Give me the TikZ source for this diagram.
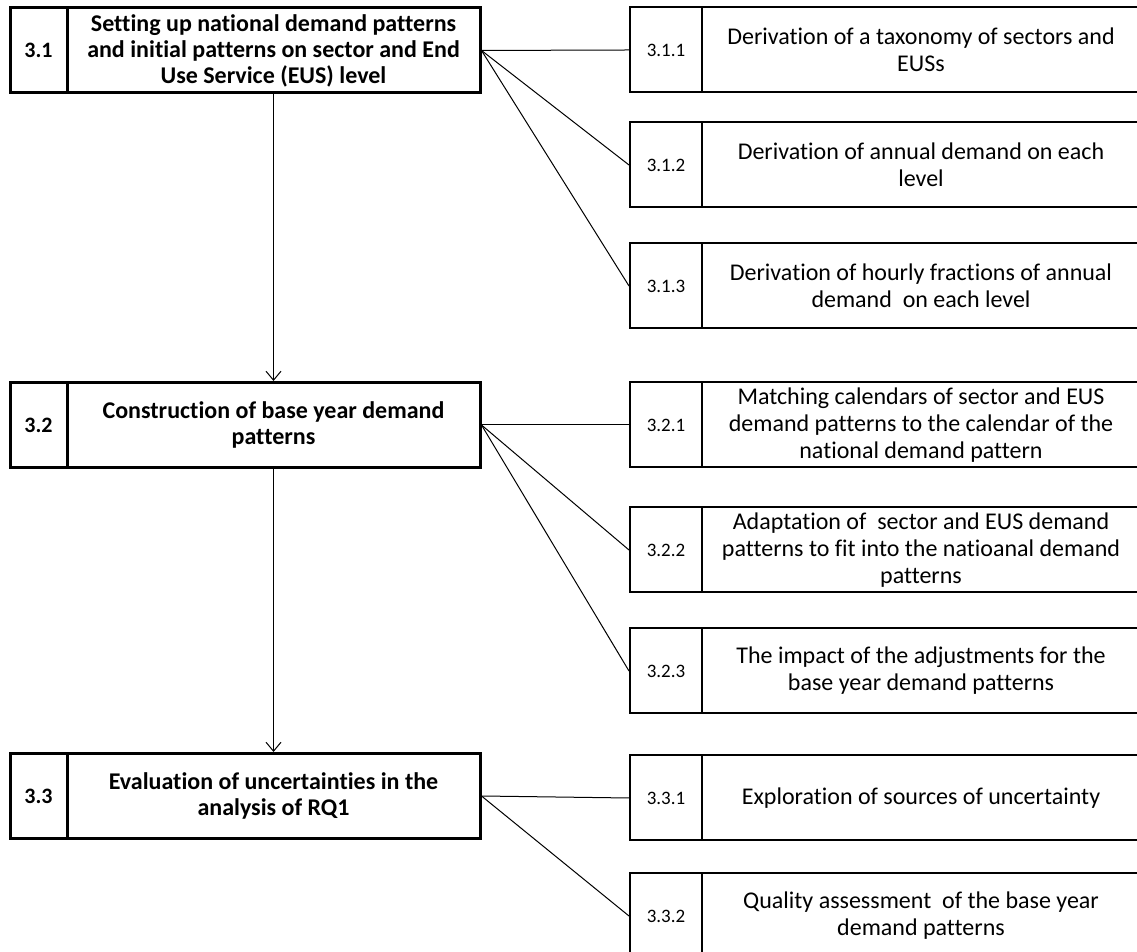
\documentclass[tikz,border=0pt]{standalone}
\usepackage{fontspec}
\setmainfont{Carlito}[Ligatures={NoCommon,NoContextual}]
\usetikzlibrary{arrows.meta}

\tikzset{
  mainnum/.style={draw,line width=3pt,minimum width=57pt,minimum height=85pt,inner sep=0pt,font=\fontsize{22}{24}\selectfont\bfseries},
  maintext/.style={draw,line width=3pt,minimum width=413pt,minimum height=85pt,inner sep=0pt,align=center,font=\fontsize{24}{26}\selectfont\bfseries},
  subnum/.style={draw,line width=2pt,minimum width=72pt,minimum height=85pt,inner sep=0pt,font=\fontsize{19}{22}\selectfont},
  subtext/.style={draw,line width=2pt,minimum width=438pt,minimum height=85pt,inner sep=0pt,align=center,font=\fontsize{24}{27}\selectfont},
  link/.style={line width=1pt},
}

\begin{document}
\begin{tikzpicture}[x=1pt,y=1pt]
\useasboundingbox (0,0) rectangle (1137,952);
\clip (0,0) rectangle (1137,952);

% main steps
\node[maintext] (t31) at (273.5,901.5) {Setting up national demand patterns\\and initial patterns on sector and End\\Use Service (EUS) level};
\node[mainnum] (n31) at (38.5,901.5) {3.1};
\node[maintext] (t32) at (273.5,527) {Construction of base year demand\\patterns};
\node[mainnum] (n32) at (38.5,527) {3.2};
\node[maintext] (t33) at (273.5,156) {Evaluation of uncertainties in the\\analysis of RQ1};
\node[mainnum] (n33) at (38.5,156) {3.3};

% sub steps
\node[subtext] (t311) at (921,902) {Derivation of a taxonomy of sectors and\\EUSs};
\node[subnum] (n311) at (666,902) {3.1.1};
\node[subtext] (t312) at (921,787) {Derivation of annual demand on each\\level};
\node[subnum] (n312) at (666,787) {3.1.2};
\node[subtext] (t313) at (921,666) {Derivation of hourly fractions of annual\\demand~~on each level};
\node[subnum] (n313) at (666,666) {3.1.3};
\node[subtext] (t321) at (921,527) {Matching calendars of sector and EUS\\demand patterns to the calendar of the\\national demand pattern};
\node[subnum] (n321) at (666,527) {3.2.1};
\node[subtext] (t322) at (921,402) {Adaptation of~~sector and EUS demand\\patterns to fit into the natioanal demand\\patterns};
\node[subnum] (n322) at (666,402) {3.2.2};
\node[subtext] (t323) at (921,281) {The impact of the adjustments for the\\base year demand patterns};
\node[subnum] (n323) at (666,281) {3.2.3};
\node[subtext] (t331) at (921,154) {Exploration of sources of uncertainty};
\node[subnum] (n331) at (666,154) {3.3.1};
\node[subtext] (t332) at (921,36) {Quality assessment~ of the base year\\demand patterns};
\node[subnum] (n332) at (666,36) {3.3.2};

% links
\draw[link,-{Straight Barb[length=9pt,width=15pt]}] (t31.south)--(t32.north);
\draw[link,-{Straight Barb[length=9pt,width=15pt]}] (t32.south)--(t33.north);
\draw[link] (t31.east)--(n311.west);
\draw[link] (t31.east)--(n312.west);
\draw[link] (t31.east)--(n313.west);
\draw[link] (t32.east)--(n321.west);
\draw[link] (t32.east)--(n322.west);
\draw[link] (t32.east)--(n323.west);
\draw[link] (t33.east)--(n331.west);
\draw[link] (t33.east)--(n332.west);
\end{tikzpicture}
\end{document}
